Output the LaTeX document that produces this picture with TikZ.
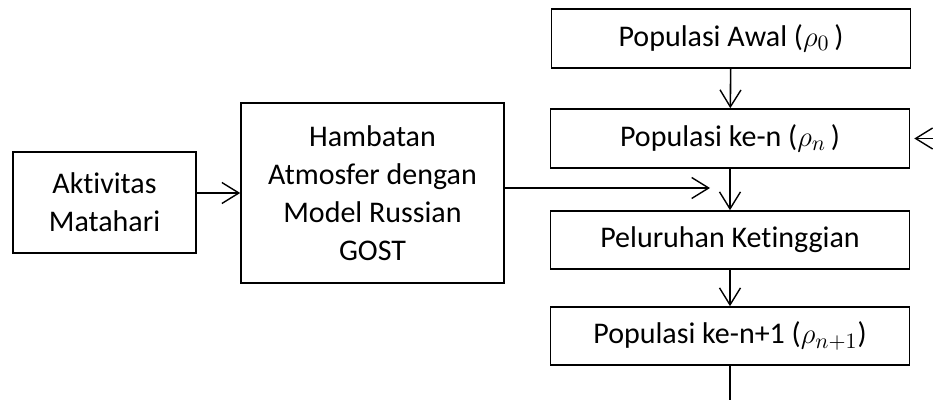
\documentclass[tikz,border=0pt]{standalone}
\usepackage{fontspec}
\setmainfont{Carlito}[Ligatures={NoCommon,NoContextual}]
\usepackage{amsmath}
\usetikzlibrary{arrows.meta, positioning}

\begin{document}
\begin{tikzpicture}[kotak/.style={draw, thick, inner sep=0pt, align=center, minimum width=#1*0.5pt},
			x=0.5pt, y=-0.5pt,
			>={Straight Barb[length=8.5pt,width=10.5pt,line width=0.7pt]},   %Voreinstellung Pfeilspitzen
			font=\fontsize{15}{19}\selectfont, line width=0.8pt]
			%Bildbereich
			\useasboundingbox (0,0) rectangle (933,400);
			% Kotak kanan (alur populasi)
			\node[kotak=359, minimum height=29.5pt] (awal) at (731,38.5) {Populasi Awal ($\rho_0\,$)};
			\node[kotak=359, minimum height=29.5pt] (ken) at (730,138.5) {Populasi ke-n ($\rho_n\,$)};
			\node[kotak=359, minimum height=29pt] (luruh) at (730,240) {Peluruhan Ketinggian};
			\node[kotak=359, minimum height=29pt] (ken1) at (730,336) {Populasi ke-n+1 ($\rho_{n+1}$)};
			% Kotak kiri
			\node[kotak=183, minimum height=50.5pt] (aktivitas) at (104.5,202.5) {Aktivitas\\Matahari};
			\node[kotak=263, minimum height=90pt] (hambatan) at (372.5,193) {Hambatan\\Atmosfer dengan\\Model Russian\\GOST};
			% Ujung bebas
			\coordinate (ujung) at (710,188);
			\coordinate (kanan) at (934,138.5);
			\coordinate (bawah) at (730,401);
			% Panah
			\draw[->] (awal) -- (ken);
			\draw[->] (ken) -- (luruh);
			\draw[->] (luruh) -- (ken1);
			\draw (ken1) -- (bawah);
			\draw[->] (kanan) -- ([xshift=2pt]ken.east);
			\draw[->] (aktivitas.east |- hambatan.west) -- (hambatan.west);
			\draw[->] (hambatan.east |- ujung) -- (ujung);
		\end{tikzpicture}
\end{document}
